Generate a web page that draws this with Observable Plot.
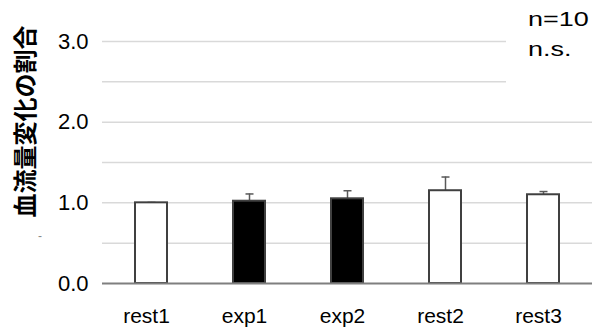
<!DOCTYPE html>
<html><head><meta charset="utf-8">
<script src="https://cdn.jsdelivr.net/npm/d3@7"></script>
<script src="https://cdn.jsdelivr.net/npm/@observablehq/plot@0.6"></script>
<style>
body{margin:0;background:#fff}
#wrap{position:relative;width:595px;height:331px;overflow:hidden}
#note{position:absolute;left:506px;top:0;width:89px;height:92px;background:#fff;font-family:"Liberation Sans",Arial,sans-serif;font-size:20px;line-height:1;color:#000}
#note div{position:absolute;left:22px;white-space:nowrap;transform:scaleX(1.35);transform-origin:0 0}
#dash{position:absolute;left:38px;top:229px;font:12px "Liberation Sans",Arial,sans-serif;color:#888}
</style></head><body><div id="wrap"></div>
<script>
const categories = ["rest1", "exp1", "exp2", "rest2", "rest3"];
const groups = ["rest", "exp", "exp", "rest", "rest"];
const means = [1.00, 1.02, 1.05, 1.15, 1.10];
const errors = [0.005, 0.09, 0.10, 0.17, 0.04];
const yLabel = "血流量変化の割合";
const noteLines = ["n=10", "n.s."];
const yTicks = [0, 1, 2, 3];
const gridTicks = [0.5, 1, 1.5, 2, 2.5, 3];

const data = categories.map((c, i) => ({cat: c, group: groups[i], mean: means[i], err: errors[i]}));

const capSymbol = {
  draw(context, size) {
    const r = Math.sqrt(size / Math.PI);
    context.moveTo(-r, 0);
    context.lineTo(r, 0);
  }
};

const chart = Plot.plot({
  width: 595, height: 331,
  marginLeft: 102, marginRight: 3, marginTop: 41, marginBottom: 48,
  style: {fontFamily: "'Liberation Sans', Arial, sans-serif", fontSize: "21px", color: "#000", background: "#fff"},
  x: {domain: categories, paddingInner: 0.67, paddingOuter: 0.335, label: null},
  y: {domain: [0, 3], label: null},
  color: {domain: ["rest", "exp"], range: ["#ffffff", "#000000"]},
  marks: [
    Plot.gridY(gridTicks, {stroke: "#d9d9d9", strokeOpacity: 1, strokeWidth: 1.5}),
    Plot.ruleX(data, {x: "cat", y1: "mean", y2: d => d.mean + d.err, stroke: "#595959", strokeWidth: 1.5}),
    Plot.dot(data, {x: "cat", y: d => d.mean + d.err, symbol: capSymbol, r: 4, fill: "none", stroke: "#595959", strokeWidth: 1.5}),
    Plot.barY(data, {x: "cat", y: "mean", fill: "group", stroke: "#404040", strokeWidth: 2}),
    Plot.ruleY([0], {stroke: "#7f7f7f", strokeWidth: 2}),
    Plot.axisY(yTicks, {tickSize: 0, tickPadding: 14, fontSize: 22, tickFormat: d3.format(".1f")}),
    Plot.axisX({tickSize: 0, tickPadding: 25, dx: -5}),
    Plot.text([yLabel], {frameAnchor: "left", textAnchor: "middle", lineAnchor: "middle", rotate: -90, dx: -76, dy: -41,
      fontSize: 24, fontWeight: "bold", fontFamily: "'Noto Sans CJK JP', sans-serif", fill: "#000"})
  ]
});
const wrap = document.getElementById("wrap");
wrap.appendChild(chart);
const note = document.createElement("div");
note.id = "note";
noteLines.forEach((t, i) => {
  const d = document.createElement("div");
  d.textContent = t;
  d.style.top = (9 + i * 29.5) + "px";
  note.appendChild(d);
});
wrap.appendChild(note);
const dash = document.createElement("div");
dash.id = "dash";
dash.textContent = "-";
wrap.appendChild(dash);
</script>
</body></html>
